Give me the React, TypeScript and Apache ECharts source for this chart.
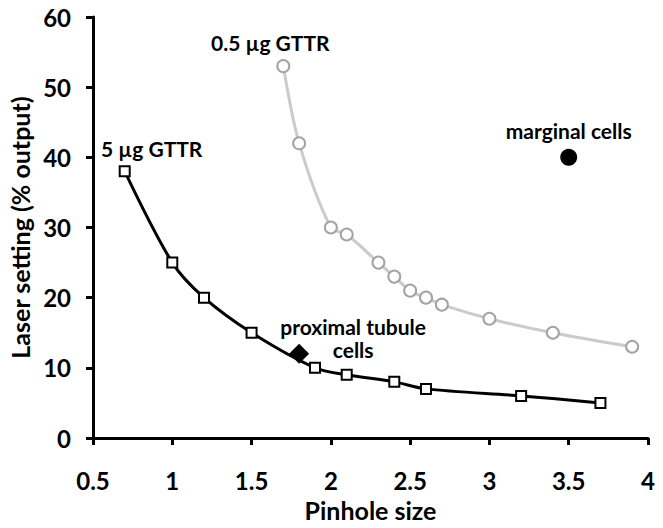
import React, { useEffect, useRef } from "react";
import * as echarts from "echarts";

const pinhole5ug = [0.7, 1, 1.2, 1.5, 1.9, 2.1, 2.4, 2.6, 3.2, 3.7];
const laser5ug = [38, 25, 20, 15, 10, 9, 8, 7, 6, 5];
const pinhole05ug = [1.7, 1.8, 2, 2.1, 2.3, 2.4, 2.5, 2.6, 2.7, 3, 3.4, 3.9];
const laser05ug = [53, 42, 30, 29, 25, 23, 21, 20, 19, 17, 15, 13];
const marginalCells = [3.5, 40];
const proximalCells = [1.8, 12];
const labels = {
  s5: "5 µg GTTR",
  s05: "0.5 µg GTTR",
  marginal: "marginal cells",
  proximal: "proximal tubule\ncells",
};

const FONT = "Lato";

export default function App() {
  const ref = useRef<HTMLDivElement>(null);
  useEffect(() => {
    document.body.style.margin = "0";
    const chart = echarts.init(ref.current!, null, { renderer: "svg" });
    const annoStyle = {
      fontFamily: FONT,
      fontWeight: "bold" as const,
      fontSize: 21,
      color: "#000",
    };
    chart.setOption({
      animation: false,
      grid: {
        left: 93,
        right: 15,
        top: 17,
        bottom: 90,
        containLabel: false,
        outerBoundsMode: "none",
      },
      xAxis: {
        type: "value",
        min: 0.5,
        max: 4,
        interval: 0.5,
        name: "Pinhole size",
        nameLocation: "middle",
        nameGap: 59,
        nameTextStyle: { fontFamily: FONT, fontWeight: "bold", fontSize: 25, color: "#000" },
        axisLine: { show: true, lineStyle: { color: "#000", width: 3 } },
        axisTick: { show: true, length: 7, lineStyle: { color: "#000", width: 3 } },
        axisLabel: { margin: 30, fontFamily: FONT, fontWeight: "bold", fontSize: 24, color: "#000" },
        splitLine: { show: false },
      },
      yAxis: {
        type: "value",
        min: 0,
        max: 60,
        interval: 10,
        name: "Laser setting (% output)",
        nameLocation: "middle",
        nameGap: 59,
        nameTextStyle: { fontFamily: FONT, fontWeight: "bold", fontSize: 25, color: "#000" },
        axisLine: { show: true, lineStyle: { color: "#000", width: 3 } },
        axisTick: { show: true, length: 7, lineStyle: { color: "#000", width: 3 } },
        axisLabel: { margin: 22, fontFamily: FONT, fontWeight: "bold", fontSize: 24, color: "#000" },
        splitLine: { show: false },
      },
      series: [
        {
          type: "line",
          smooth: 0.3,
          data: pinhole05ug.map((x, i) =>
            i === 0
              ? {
                  value: [x, laser05ug[i]],
                  label: {
                    show: true,
                    formatter: labels.s05,
                    position: "top",
                    distance: 6,
                    offset: [-13, 0],
                    ...annoStyle,
                  },
                }
              : [x, laser05ug[i]]
          ),
          symbol: "circle",
          symbolSize: 12,
          lineStyle: { color: "#cbcbcb", width: 3 },
          itemStyle: { color: "#fff", borderColor: "#a3a3a3", borderWidth: 2 },
          z: 2,
        },
        {
          type: "line",
          smooth: 0.3,
          data: pinhole5ug.map((x, i) =>
            i === 0
              ? {
                  value: [x, laser5ug[i]],
                  label: {
                    show: true,
                    formatter: labels.s5,
                    position: "top",
                    distance: 6,
                    offset: [27, 0],
                    ...annoStyle,
                  },
                }
              : [x, laser5ug[i]]
          ),
          symbol: "rect",
          symbolSize: 10,
          lineStyle: { color: "#000", width: 3 },
          itemStyle: { color: "#fff", borderColor: "#000", borderWidth: 2 },
          z: 3,
        },
        {
          type: "scatter",
          data: [marginalCells],
          symbol: "circle",
          symbolSize: 17,
          itemStyle: { color: "#000", opacity: 1 },
          label: {
            show: true,
            formatter: labels.marginal,
            position: "top",
            distance: 8,
            ...annoStyle,
          },
          z: 4,
        },
        {
          type: "scatter",
          data: [proximalCells],
          symbol: "diamond",
          symbolSize: 20,
          itemStyle: { color: "#000", opacity: 1 },
          label: {
            show: true,
            formatter: labels.proximal,
            position: "right",
            distance: 4,
            align: "center",
            offset: [40, -16],
            lineHeight: 23,
            ...annoStyle,
          },
          z: 4,
        },
      ],
    });
    return () => chart.dispose();
  }, []);
  return <div ref={ref} style={{ width: 663, height: 528 }} />;
}
